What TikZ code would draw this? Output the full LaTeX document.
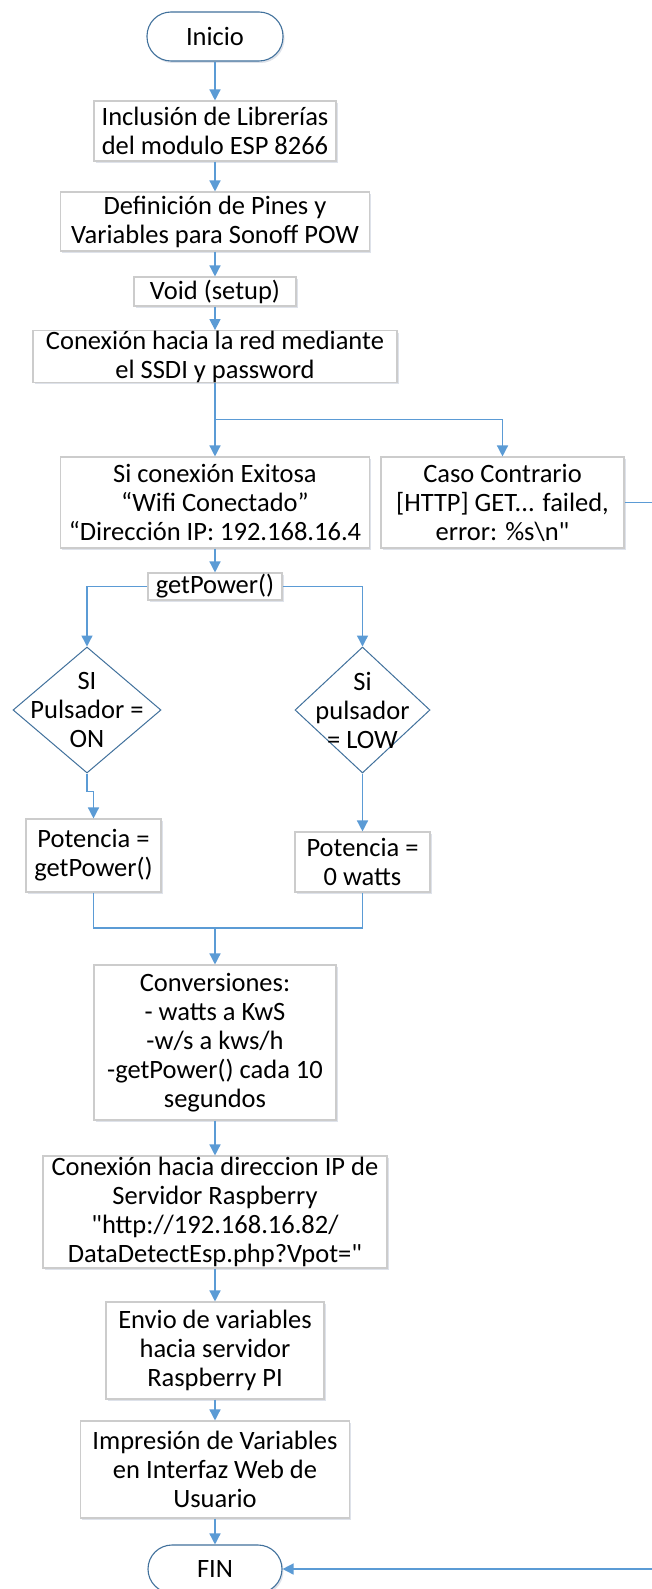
\documentclass[tikz,border=0pt]{standalone}
\usepackage{fontspec}
\setmainfont{Carlito}[Ligatures=TeXOff]
\usetikzlibrary{arrows.meta,positioning,calc,shapes.geometric,shadows}
\definecolor{flowblue}{RGB}{91,155,213}
\definecolor{edgeblue}{RGB}{65,113,156}
\definecolor{boxgray}{RGB}{204,204,204}
\definecolor{shadowgray}{RGB}{200,208,220}

\begin{document}
\begin{tikzpicture}[x=1pt, y=-1pt, font=\fontsize{26.5}{29}\selectfont, >={Triangle[length=11pt,width=11pt]}]
\tikzstyle{term}=[draw=edgeblue, line width=1.1pt, fill=white, rounded corners=24pt, inner sep=0pt, drop shadow={shadow xshift=1.5pt, shadow yshift=-2pt, fill=shadowgray, opacity=0.6}]
\tikzstyle{proc}=[draw=boxgray, line width=1.1pt, fill=white, inner sep=0pt, align=center, drop shadow={shadow xshift=1.5pt, shadow yshift=-2pt, fill=shadowgray, opacity=0.6}]
\tikzstyle{dec}=[diamond, draw=edgeblue, line width=1pt, fill=white, inner sep=0pt]
\tikzstyle{link}=[draw=flowblue, line width=1.4pt]
\path[use as bounding box, clip] (0,0) rectangle (652,1589);
\fill[white] (0,0) rectangle (652,1589);
% main column
\node[term, minimum width=136pt, minimum height=49pt] (inicio) at (215,36.5) {Inicio};
\node[proc, minimum width=242pt, minimum height=60pt] (libs) at (215,131) {Inclusión de Librerías\\del modulo ESP 8266};
\node[proc, minimum width=309pt, minimum height=59pt] (pines) at (215,221.5) {Definición de Pines y\\Variables para Sonoff POW};
\node[proc, minimum width=162pt, minimum height=29pt] (setup) at (215,291.5) {Void (setup)};
\node[proc, minimum width=364pt, minimum height=49pt] (red) at (215,356.5) {Conexión hacia la red mediante\\el SSDI y password};
\node[proc, minimum width=309pt, minimum height=91pt] (exito) at (215,502.5) {Si conexión Exitosa\\“Wifi Conectado”\\“Dirección IP: 192.168.16.4};
\node[proc, minimum width=243pt, minimum height=91pt] (caso) at (502.5,502.5) {Caso Contrario\\{[HTTP] GET... failed,}\\error: \%s\textbackslash n"};
\node[proc, minimum width=134pt, minimum height=27pt] (getpow) at (215,586.5) {getPower()};
% decisions
\node[dec, minimum width=148pt, minimum height=126pt, label={[align=center]center:{SI\\Pulsador =\\ON}}] (on) at (87,710) {};
\node[dec, minimum width=135pt, minimum height=126pt, label={[align=center]center:{Si\\pulsador\\= LOW}}] (low) at (362.5,710) {};
\node[proc, minimum width=135pt, minimum height=73pt] (potget) at (93.5,855.5) {Potencia =\\getPower()};
\node[proc, minimum width=135pt, minimum height=60pt] (potcero) at (362.5,862) {Potencia =\\0 watts};
\coordinate (junta) at (215,928);
\node[proc, minimum width=242pt, minimum height=155pt] (conv) at (215,1042.5) {Conversiones:\\- watts a KwS\\-w/s a kws/h\\-getPower() cada 10\\segundos};
\node[proc, minimum width=344pt, minimum height=112pt] (ip) at (215,1212) {Conexión hacia direccion IP de\\Servidor Raspberry\\"http://192.168.16.82/\\DataDetectEsp.php?Vpot="};
\node[proc, minimum width=218pt, minimum height=97pt] (envio) at (215,1350.5) {Envio de variables\\hacia servidor\\Raspberry PI};
\node[proc, minimum width=269pt, minimum height=97pt] (impr) at (215,1469.5) {Impresión de Variables\\en Interfaz Web de\\Usuario};
\node[term, minimum width=134pt, minimum height=48pt] (fin) at (215,1569) {FIN};
% connectors
\draw[link,->] (inicio) -- (libs);
\draw[link,->] (libs) -- (pines);
\draw[link,->] (pines) -- (setup);
\draw[link,->] (setup) -- (red);
\draw[link,->] (red.south) -- (exito.north);
\draw[link,->] (red.south) |- ($(red.south)!0.5!(exito.north)$) -| (caso.north);
\draw[link,->] (exito) -- (getpow);
\draw[link,->] (getpow.west) -| (on.north);
\draw[link,->] (getpow.east) -| (low.north);
\draw[link,->] (on.south) -- ++(0,18) -| (potget.north);
\draw[link,->] (low.south) -- (potcero.north);
\draw[link] (potget.south) |- (junta) -| (potcero.south);
\draw[link,->] (junta) -- (conv.north);
\draw[link,->] (conv) -- (ip);
\draw[link,->] (ip) -- (envio);
\draw[link,->] (envio) -- (impr);
\draw[link,->] (impr) -- (fin);
\draw[link,->] (caso.east) -- ++(60,0) |- (fin.east);
\end{tikzpicture}
\end{document}
